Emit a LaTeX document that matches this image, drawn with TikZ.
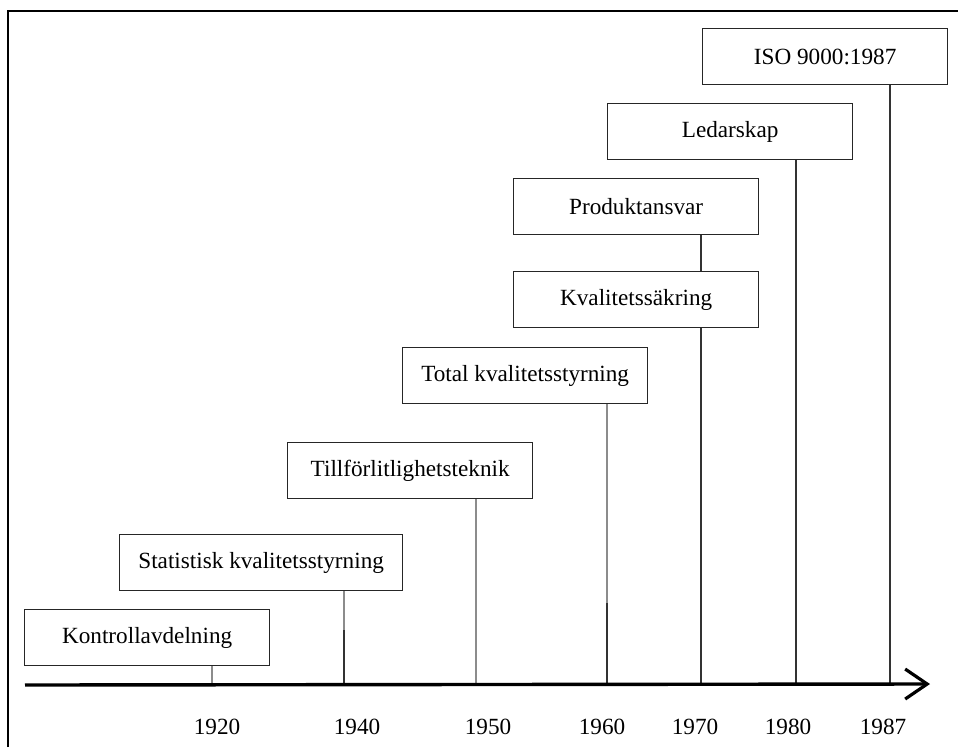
\documentclass[tikz,border=0pt]{standalone}
\usepackage{fontspec}
\setmainfont{Liberation Serif}
\usetikzlibrary{arrows.meta}
\begin{document}
\begin{tikzpicture}[x=1pt,y=-1pt,
  stage/.style={draw=black!85,line width=1.3pt,fill=white,anchor=north west,
    minimum width=245pt,minimum height=56pt,inner sep=0pt,
    font=\fontsize{23.2}{28}\selectfont},
  year/.style={font=\fontsize{23.2}{28}\selectfont,inner sep=0pt},
  tick/.style={line width=1.2pt,draw=black!80},
  softtick/.style={line width=1.2pt,draw=black!45}]
\useasboundingbox (0,0) rectangle (958,747);
\fill[white] (0,0) rectangle (958,747);
% frame
\draw[line width=2.4pt] (8,747) -- (8,11) -- (958,11);

% stages
\node[stage] (kon) at (24,609) {Kontrollavdelning};
\node[stage,minimum width=283pt] (sta) at (119,534) {Statistisk kvalitetsstyrning};
\node[stage] (til) at (287,442) {Tillförlitlighetsteknik};
\node[stage] (tot) at (402,347) {Total kvalitetsstyrning};
\node[stage] (kva) at (513,271) {Kvalitetssäkring};
\node[stage] (pro) at (513,178) {Produktansvar};
\node[stage] (led) at (607,103) {Ledarskap};
\node[stage] (iso) at (702,28) {ISO 9000:1987};

% time axis
\coordinate (axs) at (25,685);
\coordinate (axe) at (930,684);
\coordinate (t1920) at (212,685);
\coordinate (t1940) at (344,685);
\coordinate (t1950) at (476,685);
\coordinate (t1960) at (607,685);
\coordinate (t1970) at (701,685);
\coordinate (t1980) at (796,685);
\coordinate (t1987) at (890,685);

\draw[softtick] (t1920) -- (t1920 |- kon.south);
\draw[softtick] (344,630) -- (t1940 |- sta.south);
\draw[tick] (t1940) -- (344,630);
\draw[softtick] (t1950) -- (t1950 |- til.south);
\draw[softtick] (607,603) -- (t1960 |- tot.south);
\draw[tick] (t1960) -- (607,603);
\draw[tick] (t1970) -- (t1970 |- kva.south);
\draw[tick] (t1970 |- kva.north) -- (t1970 |- pro.south);
\draw[tick] (t1980) -- (t1980 |- led.south);
\draw[tick] (t1987) -- (t1987 |- iso.south);

\draw[line width=3.4pt,-{Straight Barb[length=22pt,width=30pt,line width=3.2pt]}] (axs) -- (axe);

% years
\node[year] (y1920) at (217,727) {1920};
\node[year] (y1940) at (357,727) {1940};
\node[year] (y1950) at (488,727) {1950};
\node[year] (y1960) at (602,727) {1960};
\node[year] (y1970) at (695,727) {1970};
\node[year] (y1980) at (788,727) {1980};
\node[year] (y1987) at (883,727) {1987};
\end{tikzpicture}
\end{document}
